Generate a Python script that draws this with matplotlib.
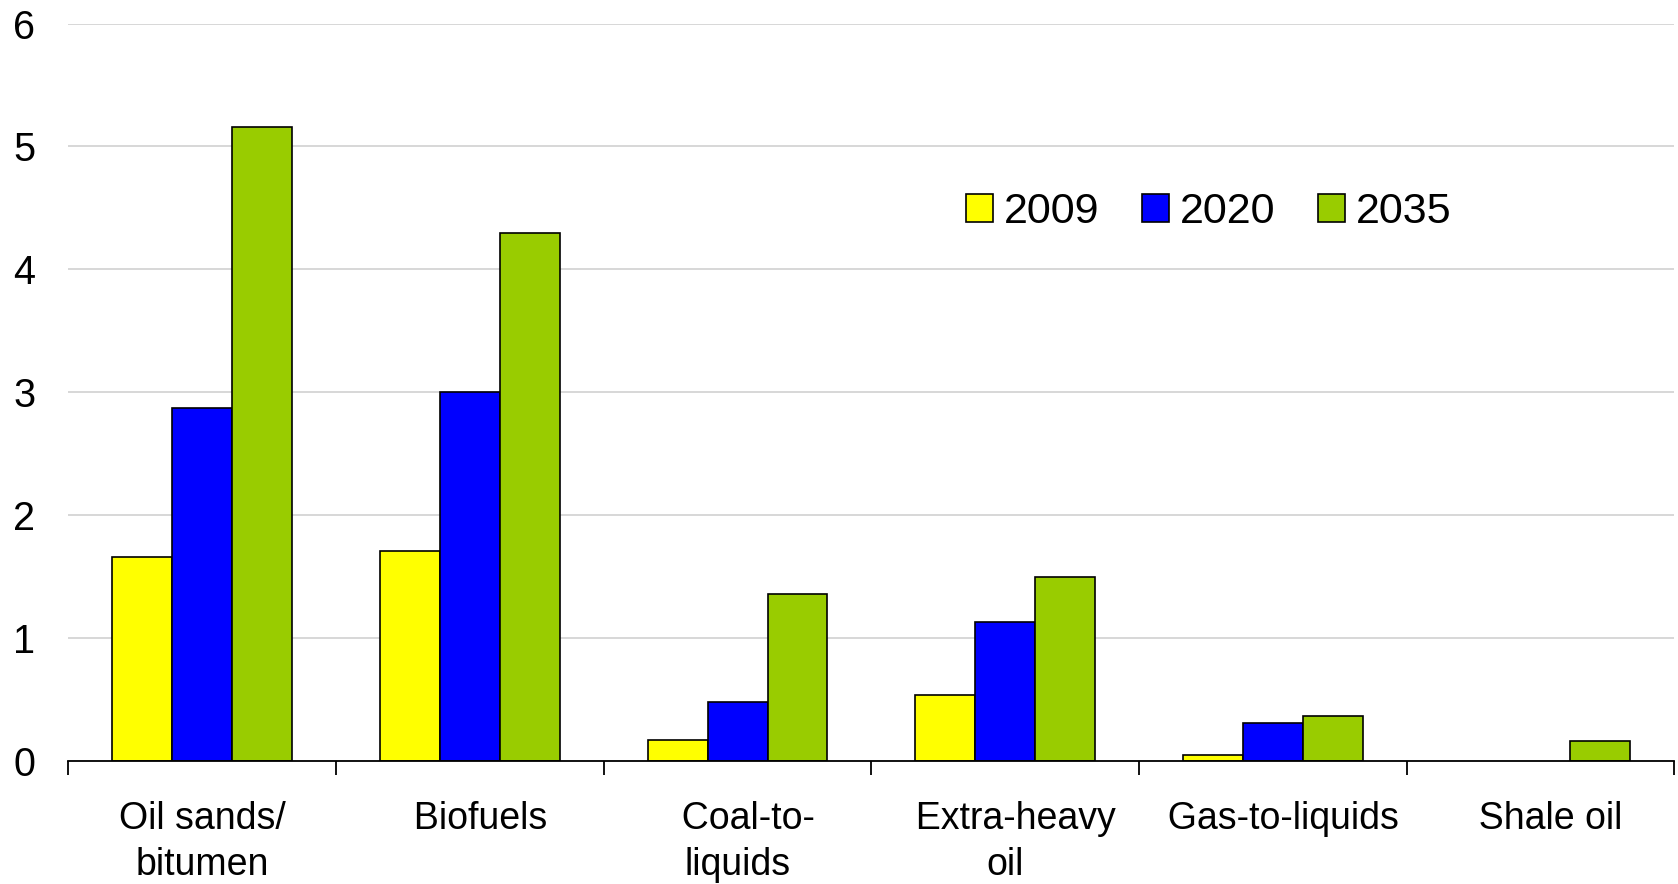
import numpy as np
import matplotlib.pyplot as plt
from matplotlib.patches import Patch

plt.rcParams['font.family'] = ['Liberation Sans', 'DejaVu Sans']

categories = ['Oil sands/\nbitumen', '  Biofuels', '  Coal-to-\nliquids',
              '  Extra-heavy\noil', '  Gas-to-liquids', '  Shale oil']
years = ['2009', '2020', '2035']
vals_2009 = [1.66, 1.71, 0.17, 0.54, 0.05, 0.0]
vals_2020 = [2.87, 3.00, 0.48, 1.13, 0.31, 0.0]
vals_2035 = [5.16, 4.30, 1.36, 1.50, 0.37, 0.16]
colors = ['#FFFF00', '#0000FF', '#99CC00']

fig = plt.figure(figsize=(16.78, 8.84), dpi=100)
ax = fig.add_axes([0.0408, 0.139, 0.957, 0.8344])

x = np.arange(len(categories))
width = 0.224
series = [vals_2009, vals_2020, vals_2035]
for i, (vals, c) in enumerate(zip(series, colors)):
    v = np.array(vals)
    keep = v > 0
    ax.bar(x[keep] + (i - 1) * width, v[keep], width, color=c,
           edgecolor='black', linewidth=1.2, zorder=3)

ax.set_xlim(-0.5, len(categories) - 0.5)
ax.set_ylim(0, 6)
ax.set_yticks(range(7))
ax.yaxis.grid(True, color='#d4d4d4', linewidth=1.3, zorder=0)
ax.tick_params(axis='y', length=0, pad=24, labelsize=28.5)

# boundary ticks on the x axis, labels centred between them
ax.set_xticks(np.arange(len(categories) + 1) - 0.5)
ax.set_xticklabels([])
ax.tick_params(axis='x', which='major', direction='out', length=10,
               width=1.3, color='black')
ax.set_xticks(x, minor=True)
ax.set_xticklabels(categories, minor=True, fontsize=27, linespacing=1.35)
ax.tick_params(axis='x', which='minor', length=0, pad=29)

for s in ['left', 'top', 'right']:
    ax.spines[s].set_visible(False)
ax.spines['bottom'].set_linewidth(1.3)
ax.spines['bottom'].set_zorder(4)

handles = [Patch(facecolor=c, edgecolor='black', linewidth=1.2) for c in colors]
fig.legend(handles, years, loc='center left',
           bbox_to_anchor=(966 / 1678, 1 - 212 / 884), ncol=3, frameon=False,
           fontsize=31, handlelength=0.62, handleheight=0.62,
           handletextpad=0.25, columnspacing=1.0, borderpad=0,
           borderaxespad=0)

fig.savefig('out.png', dpi=100)
